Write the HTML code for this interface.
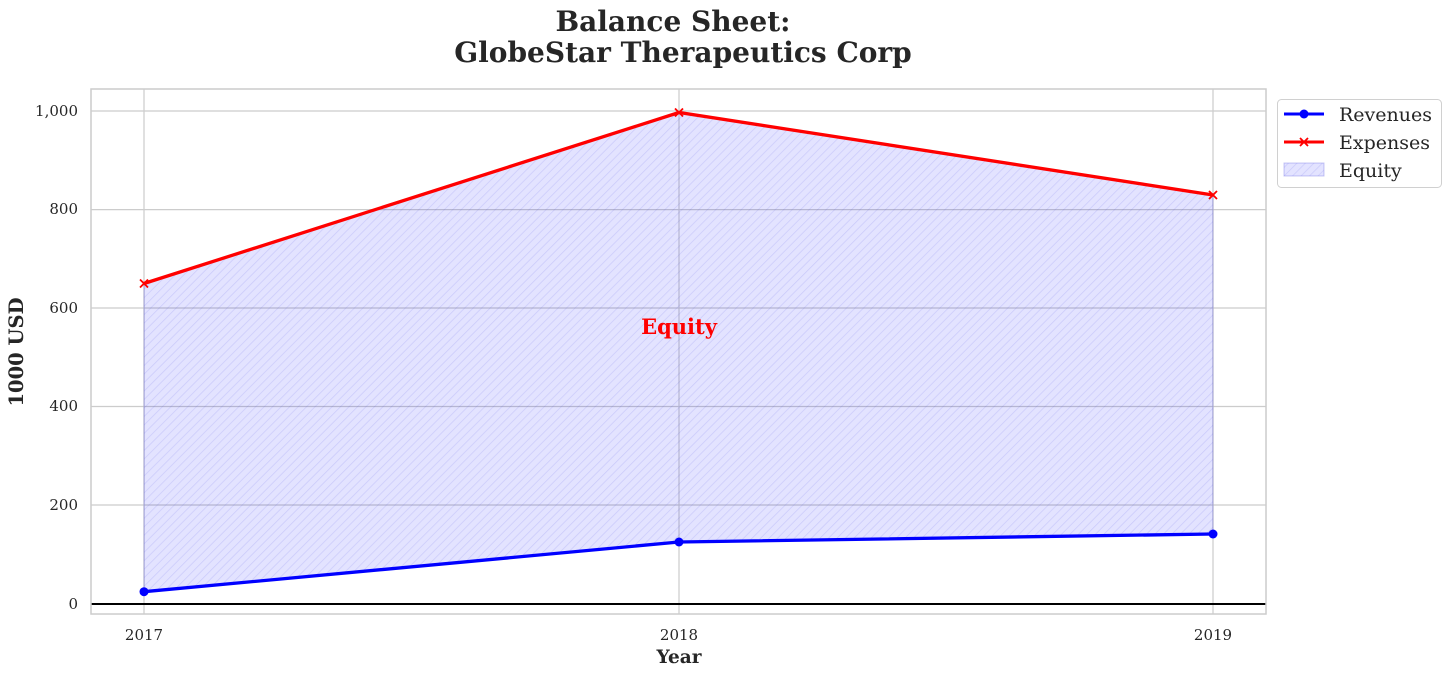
<!DOCTYPE html>
<html><head><style>body{margin:0;background:#fff}svg text{font-family:"DejaVu Serif","Liberation Serif",serif}</style></head><body>
<svg width="1452" height="676" viewBox="0 0 1452 676" xmlns="http://www.w3.org/2000/svg">
<defs>
<pattern id="h" width="6" height="6" patternUnits="userSpaceOnUse" patternTransform="rotate(45)">
<rect width="6" height="6" fill="rgba(0,0,255,0.11)"/><line x1="0" y1="0" x2="0" y2="6" stroke="rgba(60,60,220,0.15)" stroke-width="1.5"/>
</pattern>
</defs>
<text x="673" y="31" text-anchor="middle" font-size="28" font-weight="bold" fill="#262626">Balance Sheet:</text>
<text x="683" y="62" text-anchor="middle" font-size="28" font-weight="bold" fill="#262626">GlobeStar Therapeutics Corp</text>
<g stroke="#cccccc" stroke-width="1.2">
<line x1="91" y1="111" x2="1266" y2="111"/><line x1="91" y1="209.6" x2="1266" y2="209.6"/><line x1="91" y1="308" x2="1266" y2="308"/><line x1="91" y1="406.5" x2="1266" y2="406.5"/><line x1="91" y1="505" x2="1266" y2="505"/>
<line x1="144" y1="89" x2="144" y2="614"/><line x1="679" y1="89" x2="679" y2="614"/><line x1="1213" y1="89" x2="1213" y2="614"/>
</g>
<polygon points="144,283.5 679,112.5 1213,195 1213,534 679,542 144,591.7" fill="url(#h)" stroke="rgba(80,80,220,0.3)" stroke-width="1"/>
<line x1="91" y1="604" x2="1266" y2="604" stroke="#000" stroke-width="2"/>
<rect x="91" y="89" width="1175" height="525" fill="none" stroke="#cccccc" stroke-width="1.5"/>
<polyline points="144,283.5 679,112.5 1213,195" fill="none" stroke="#ff0000" stroke-width="3.3"/>
<g stroke="#ff0000" stroke-width="1.8">
<path d="M140,279.5l8,8M148,279.5l-8,8"/><path d="M675,108.5l8,8M683,108.5l-8,8"/><path d="M1209,191l8,8M1217,191l-8,8"/></g>
<polyline points="144,591.7 679,542 1213,534" fill="none" stroke="#0000ff" stroke-width="3.3"/>
<g fill="#0000ff"><circle cx="144" cy="591.7" r="4.5"/><circle cx="679" cy="542" r="4.5"/><circle cx="1213" cy="534" r="4.5"/></g>
<text x="679" y="334" text-anchor="middle" font-size="21" font-weight="bold" fill="#ff0000">Equity</text>
<g font-size="15" fill="#262626" text-anchor="end">
<text x="78" y="116">1,000</text><text x="78" y="214">800</text><text x="78" y="313">600</text><text x="78" y="411">400</text><text x="78" y="510">200</text><text x="78" y="609">0</text></g>
<g font-size="15" fill="#262626" text-anchor="middle">
<text x="144" y="640">2017</text><text x="679" y="640">2018</text><text x="1213" y="640">2019</text></g>
<text x="679" y="663" text-anchor="middle" font-size="18.5" font-weight="bold" fill="#262626">Year</text>
<text transform="translate(23,352) rotate(-90)" text-anchor="middle" font-size="19.5" font-weight="bold" fill="#262626">1000 USD</text>
<rect x="1277.5" y="99.5" width="164" height="88" rx="4" fill="#fff" stroke="#d0d0d0"/>
<line x1="1284" y1="114" x2="1324" y2="114" stroke="#0000ff" stroke-width="3"/><circle cx="1304" cy="114" r="4.5" fill="#0000ff"/>
<line x1="1284" y1="142" x2="1324" y2="142" stroke="#ff0000" stroke-width="3"/><path d="M1300,138l8,8M1308,138l-8,8" stroke="#ff0000" stroke-width="1.8"/>
<rect x="1284" y="163" width="40" height="13" fill="url(#h)" stroke="rgba(80,80,220,0.3)"/>
<g font-size="19" fill="#262626"><text x="1339" y="121">Revenues</text><text x="1339" y="149">Expenses</text><text x="1339" y="177">Equity</text></g>
</svg>
</body></html>
